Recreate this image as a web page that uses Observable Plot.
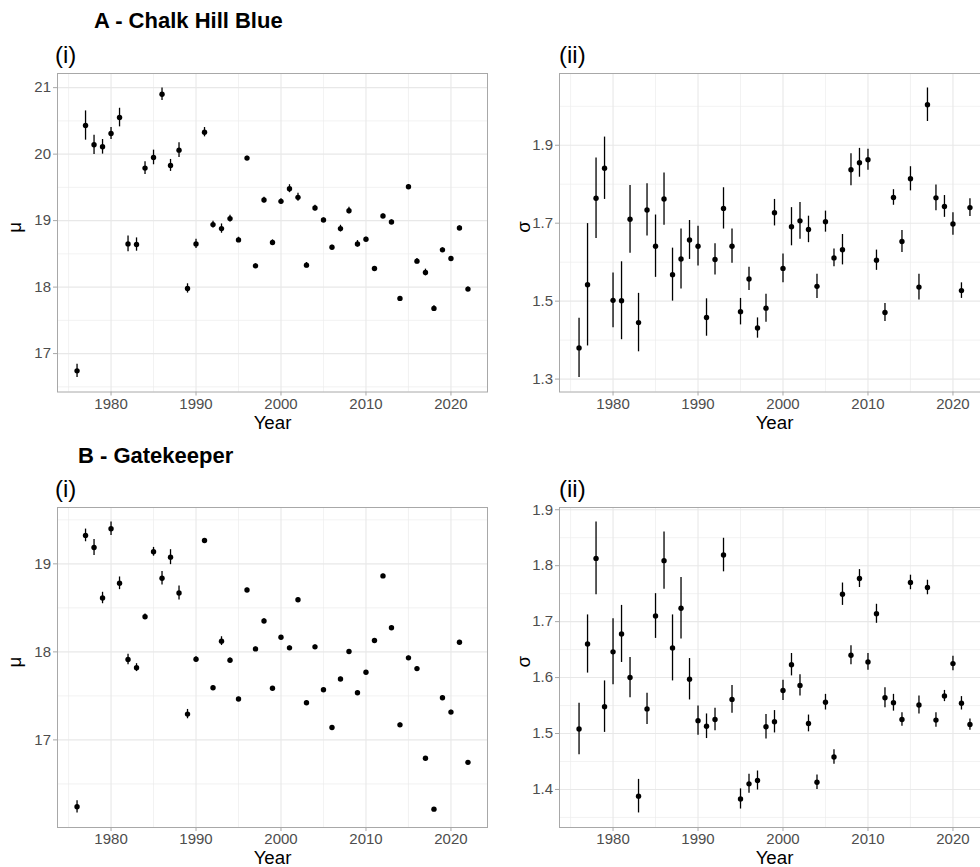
<!DOCTYPE html>
<html><head><meta charset="utf-8">
<script src="https://cdn.jsdelivr.net/npm/d3@7"></script>
<script src="https://cdn.jsdelivr.net/npm/@observablehq/plot@0.6"></script>
<style>
html,body{margin:0;padding:0;background:#fff;overflow:hidden;}
#fig{position:relative;width:980px;height:867px;overflow:hidden;font-family:"Liberation Sans",Arial,Helvetica,sans-serif;}
.panel{position:absolute;}
.panel svg{overflow:visible;max-width:none !important;}
#overlay{position:absolute;left:0;top:0;}
g[aria-label="x-axis tick"], g[aria-label="y-axis tick"]{stroke:#a8a8a8;}
g[aria-label="x-axis tick label"], g[aria-label="y-axis tick label"]{fill:#4d4d4d;font-size:15px;}
g[aria-label="x-axis tick label"] text, g[aria-label="y-axis tick label"] text{font-size:15px;}
</style>
</head><body>
<div id="fig"></div>
<script>
// ---------- data ----------
const years = [1976,1977,1978,1979,1980,1981,1982,1983,1984,1985,1986,1987,1988,1989,1990,1991,1992,1993,1994,1995,1996,1997,1998,1999,2000,2001,2002,2003,2004,2005,2006,2007,2008,2009,2010,2011,2012,2013,2014,2015,2016,2017,2018,2019,2020,2021,2022];

// A - Chalk Hill Blue
const chbMu = [16.74,20.43,20.14,20.11,20.31,20.55,18.65,18.64,19.79,19.95,20.90,19.83,20.06,17.98,18.65,20.33,18.94,18.88,19.03,18.71,19.94,18.32,19.31,18.67,19.29,19.48,19.35,18.33,19.19,19.01,18.60,18.88,19.15,18.65,18.72,18.28,19.07,18.98,17.83,19.51,18.39,18.22,17.68,18.56,18.43,18.89,17.97];
const chbMuErr = [0.10,0.22,0.145,0.11,0.09,0.14,0.12,0.10,0.095,0.11,0.095,0.09,0.11,0.07,0.07,0.07,0.05,0.07,0.05,0.04,0.03,0.03,0.04,0.04,0.04,0.06,0.06,0.04,0.04,0.03,0.03,0.05,0.05,0.05,0.03,0.03,0.03,0.03,0.03,0.03,0.04,0.05,0.04,0.03,0.03,0.03,0.03];
const chbSigma = [1.380,1.542,1.764,1.841,1.502,1.501,1.710,1.445,1.734,1.641,1.762,1.568,1.608,1.657,1.641,1.458,1.607,1.738,1.641,1.473,1.557,1.431,1.482,1.727,1.584,1.691,1.706,1.684,1.538,1.704,1.611,1.632,1.837,1.855,1.863,1.605,1.471,1.766,1.653,1.814,1.536,2.004,1.765,1.743,1.698,1.527,1.740];
const chbSigmaErr = [0.076,0.157,0.103,0.08,0.07,0.1,0.087,0.075,0.067,0.08,0.067,0.068,0.077,0.05,0.051,0.048,0.04,0.053,0.044,0.034,0.03,0.026,0.036,0.034,0.037,0.049,0.047,0.034,0.031,0.027,0.023,0.039,0.041,0.037,0.027,0.026,0.023,0.02,0.028,0.031,0.033,0.043,0.033,0.028,0.029,0.02,0.023];

// B - Gatekeeper
const gkMu = [16.24,19.323,19.186,18.612,19.399,18.779,17.913,17.821,18.399,19.137,18.837,19.076,18.669,17.293,17.916,19.266,17.593,18.122,17.905,17.464,18.703,18.034,18.350,17.586,18.167,18.046,18.593,17.422,18.057,17.570,17.141,17.692,18.004,17.536,17.768,18.129,18.863,18.274,17.171,17.932,17.810,16.791,16.213,17.479,17.316,18.110,16.745];
const gkMuErr = [0.07,0.072,0.09,0.065,0.076,0.072,0.06,0.045,0.03,0.05,0.076,0.085,0.08,0.053,0.03,0.02,0.02,0.05,0.025,0.02,0.02,0.02,0.025,0.02,0.02,0.02,0.02,0.02,0.02,0.018,0.02,0.02,0.02,0.02,0.02,0.018,0.02,0.018,0.02,0.02,0.02,0.02,0.015,0.02,0.02,0.02,0.015];
const gkSigma = [1.508,1.660,1.813,1.548,1.646,1.678,1.600,1.388,1.544,1.710,1.809,1.653,1.724,1.597,1.523,1.513,1.525,1.819,1.561,1.383,1.410,1.416,1.512,1.521,1.577,1.623,1.586,1.518,1.413,1.556,1.458,1.749,1.640,1.777,1.628,1.714,1.564,1.555,1.525,1.770,1.551,1.761,1.524,1.567,1.625,1.554,1.516];
const gkSigmaErr = [0.046,0.052,0.065,0.046,0.059,0.051,0.036,0.03,0.028,0.04,0.051,0.059,0.055,0.037,0.026,0.022,0.02,0.03,0.025,0.018,0.017,0.017,0.022,0.02,0.018,0.02,0.019,0.015,0.013,0.014,0.013,0.02,0.017,0.016,0.015,0.017,0.018,0.015,0.012,0.013,0.016,0.013,0.013,0.01,0.013,0.012,0.01];

// ticks
const xTicks = [1980,1990,2000,2010,2020];
const xMinor = [1975,1985,1995,2005,2015];
const muTicksA = [17,18,19,20,21], muMinorA = [16.5,17.5,18.5,19.5,20.5];
const sdTicksA = [1.3,1.5,1.7,1.9], sdMinorA = [1.4,1.6,1.8,2.0];
const muTicksB = [17,18,19], muMinorB = [16.5,17.5,18.5,19.5];
const sdTicksB = [1.4,1.5,1.6,1.7,1.8,1.9], sdMinorB = [1.35,1.45,1.55,1.65,1.75,1.85];

// text
const titleA = "A - Chalk Hill Blue", titleB = "B - Gatekeeper";
const subI = "(i)", subII = "(ii)";
const xLabel = "Year", muLabel = "μ", sdLabel = "σ";

// ---------- drawing ----------
const FONT = '"Liberation Sans", Arial, Helvetica, sans-serif';
const fig = document.getElementById("fig");

function panel({vals, errs, yTicks, yMinor, yFmt, ylab, left, top, frameH, ylabDx}) {
  const data = years.map((yr, i) => ({year: yr, v: vals[i], lo: vals[i] - errs[i], hi: vals[i] + errs[i]}));
  const lo = d3.min(data, d => d.lo), hi = d3.max(data, d => d.hi), pad = (hi - lo) * 0.05;
  const x0 = d3.min(years), x1 = d3.max(years), xpad = (x1 - x0) * 0.05;
  const mt = 5, mb = 45, ml = 57, mr = 5;
  const W = ml + 430 + mr, H = mt + frameH + mb;
  const chart = Plot.plot({
    width: W, height: H,
    marginLeft: ml, marginRight: mr, marginTop: mt, marginBottom: mb,
    style: {fontFamily: FONT, fontSize: "15px", background: "transparent", overflow: "visible"},
    x: {domain: [x0 - xpad, x1 + xpad]},
    y: {domain: [lo - pad, hi + pad]},
    marks: [
      Plot.gridX(xMinor, {stroke: "#ececec", strokeOpacity: 1, strokeWidth: 0.7}),
      Plot.gridY(yMinor, {stroke: "#ececec", strokeOpacity: 1, strokeWidth: 0.7}),
      Plot.gridX(xTicks, {stroke: "#e8e8e8", strokeOpacity: 1, strokeWidth: 1.1}),
      Plot.gridY(yTicks, {stroke: "#e8e8e8", strokeOpacity: 1, strokeWidth: 1.1}),
      Plot.ruleX(data, {x: "year", y1: "lo", y2: "hi", stroke: "black", strokeWidth: 1.3}),
      Plot.dot(data, {x: "year", y: "v", r: 2.7, fill: "black", stroke: "none"}),
      Plot.frame({stroke: "#a8a8a8", strokeWidth: 1}),
      Plot.axisX(xTicks, {tickFormat: "d", tickSize: 4, tickPadding: 2, label: null, fontSize: 15}),
      Plot.axisY(yTicks, {tickFormat: yFmt, tickSize: 4, tickPadding: 2.5, label: null, fontSize: 15}),
      Plot.text([xLabel], {frameAnchor: "bottom", lineAnchor: "top", dy: 23.5, fontSize: 18.7, fill: "black"}),
      Plot.text([ylab], {frameAnchor: "left", lineAnchor: "middle", dx: ylabDx, rotate: -90, fontSize: 18.7, fill: "black"})
    ]
  });
  const wrap = document.createElement("div");
  wrap.className = "panel";
  wrap.style.left = (left - ml) + "px";
  wrap.style.top = (top - mt) + "px";
  wrap.style.width = W + "px";
  wrap.style.height = H + "px";
  wrap.appendChild(chart);
  fig.appendChild(wrap);
}

panel({vals: chbMu, errs: chbMuErr, yTicks: muTicksA, yMinor: muMinorA, yFmt: "d", ylab: muLabel, left: 57, top: 72.5, frameH: 318.5, ylabDx: -42});
panel({vals: chbSigma, errs: chbSigmaErr, yTicks: sdTicksA, yMinor: sdMinorA, yFmt: ".1f", ylab: sdLabel, left: 559, top: 72.5, frameH: 318.5, ylabDx: -35});
panel({vals: gkMu, errs: gkMuErr, yTicks: muTicksB, yMinor: muMinorB, yFmt: "d", ylab: muLabel, left: 57, top: 507, frameH: 320, ylabDx: -42});
panel({vals: gkSigma, errs: gkSigmaErr, yTicks: sdTicksB, yMinor: sdMinorB, yFmt: ".1f", ylab: sdLabel, left: 559, top: 507, frameH: 320, ylabDx: -35});

// titles overlay
const ov = d3.select(fig).append("svg").attr("id", "overlay").attr("width", 980).attr("height", 867)
  .style("pointer-events", "none").style("font-family", FONT);
const labels = [
  {t: titleA, x: 94, y: 28, s: 22, w: "bold"},
  {t: subI, x: 55, y: 62.5, s: 24, w: "normal"},
  {t: subII, x: 559, y: 62.5, s: 24, w: "normal"},
  {t: titleB, x: 78, y: 463, s: 22, w: "bold"},
  {t: subI, x: 55, y: 497, s: 24, w: "normal"},
  {t: subII, x: 559, y: 497, s: 24, w: "normal"}
];
ov.selectAll("text").data(labels).join("text")
  .attr("x", d => d.x).attr("y", d => d.y)
  .attr("font-size", d => d.s).attr("font-weight", d => d.w)
  .attr("fill", "black").text(d => d.t);
</script>
</body></html>
